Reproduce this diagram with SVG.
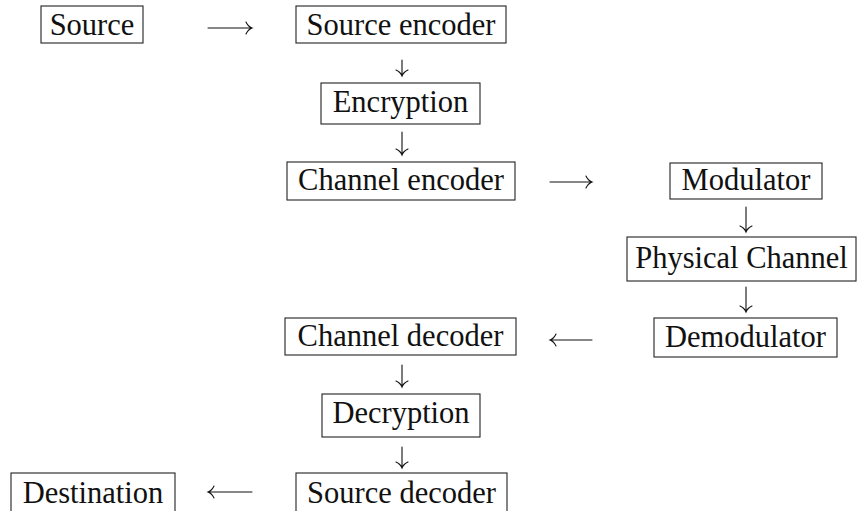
<svg xmlns="http://www.w3.org/2000/svg" width="857" height="511" viewBox="0 0 857 511">
<style>
.n rect{fill:#fff;stroke:#222;stroke-width:1.1}
text{font-family:"Liberation Serif","Times New Roman",serif;font-size:30.5px;fill:#111;text-anchor:middle}
.c path{fill:none;stroke:#111;stroke-width:1.1;stroke-linecap:round}
</style>
<rect width="857" height="511" fill="#fff"/>
<g id="source" class="n"><rect x="41" y="6" width="102" height="37"/><text x="92" y="35">Source</text></g>
<g id="source-encoder" class="n"><rect x="296" y="6" width="210" height="37"/><text x="401" y="35">Source encoder</text></g>
<g id="encryption" class="n"><rect x="321" y="83" width="159" height="41"/><text x="400.5" y="112">Encryption</text></g>
<g id="channel-encoder" class="n"><rect x="287" y="162" width="228" height="38"/><text x="401" y="190">Channel encoder</text></g>
<g id="modulator" class="n"><rect x="670" y="163" width="152" height="36"/><text x="746" y="190">Modulator</text></g>
<g id="physical-channel" class="n"><rect x="627" y="237" width="229" height="44"/><text x="741.5" y="268">Physical Channel</text></g>
<g id="demodulator" class="n"><rect x="654" y="318" width="183" height="39"/><text x="745.5" y="347">Demodulator</text></g>
<g id="channel-decoder" class="n"><rect x="285" y="318" width="231" height="37"/><text x="400.5" y="346">Channel decoder</text></g>
<g id="decryption" class="n"><rect x="322" y="394" width="158" height="43"/><text x="401" y="423">Decryption</text></g>
<g id="source-decoder" class="n"><rect x="296" y="473" width="211" height="42"/><text x="401.5" y="503">Source decoder</text></g>
<g id="destination" class="n"><rect x="11" y="473" width="164" height="42"/><text x="93" y="503">Destination</text></g>
<g id="connectors" class="c">
<path d="M208 28H252M246 22Q248 26.5 252 28Q248 29.5 246 34"/>
<path d="M550 182H592M586 176Q588 180.5 592 182Q588 183.5 586 188"/>
<path d="M592 340H550M556 334Q554 338.5 550 340Q554 341.5 556 346"/>
<path d="M252 492H208M214 486Q212 490.5 208 492Q212 493.5 214 498"/>
<path d="M402 60V76M396 70Q400.5 72 402 76Q403.5 72 408 70"/>
<path d="M402 132V155M396 149Q400.5 151 402 155Q403.5 151 408 149"/>
<path d="M402 365V387M396 381Q400.5 383 402 387Q403.5 383 408 381"/>
<path d="M402 447V468M396 462Q400.5 464 402 468Q403.5 464 408 462"/>
<path d="M746 207V232M740 226Q744.5 228 746 232Q747.5 228 752 226"/>
<path d="M746 287V312M740 306Q744.5 308 746 312Q747.5 308 752 306"/>
</g>
</svg>
